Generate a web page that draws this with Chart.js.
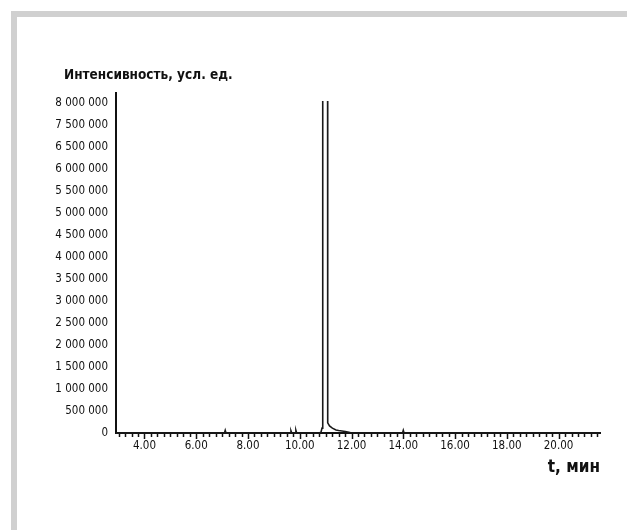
<!DOCTYPE html>
<html>
<head>
<meta charset="utf-8">
<script src="https://cdn.jsdelivr.net/npm/chart.js@4"></script>
<style>
  body { margin: 0; background: #fff; }
  #frame {
    position: absolute; left: 11px; top: 11px; width: 700px; height: 600px;
    border-top: 6px solid #d0d0d0; border-left: 6px solid #d0d0d0;
  }
  #chart { position: absolute; left: 0; top: 0; }
</style>
</head>
<body>
<div id="frame"></div>
<canvas id="chart" width="627" height="530"></canvas>
<script>
// retention time, min
const times = [2.9, 7.09, 7.12, 7.15, 9.63, 9.66, 9.69, 9.82, 9.85, 9.88,
  10.75, 10.82, 10.86, 10.885, 10.89, 11.075, 11.08, 11.15, 11.26, 11.4, 11.5, 11.76, 11.9, 12.0,
  13.97, 14.0, 14.03, 21.6];
// intensity (main peak runs off the top of the plot)
const intensity = [0, 0, 60000, 0, 0, 50000, 0, 0, 60000, 0,
  0, 20000, 110000, 400000, 9000000, 9000000, 230000, 160000, 110000, 70000, 55000, 35000, 15000, 0,
  0, 60000, 0, 0];

const xTicks = [4, 6, 8, 10, 12, 14, 16, 18, 20];
// the source axis is evenly spaced and skips 7 000 000
const yTicks = [0, 500000, 1000000, 1500000, 2000000, 2500000, 3000000, 3500000,
  4000000, 4500000, 5000000, 5500000, 6000000, 6500000, 7000000, 7500000];
const yTickLabels = ['0', '500 000', '1 000 000', '1 500 000', '2 000 000', '2 500 000',
  '3 000 000', '3 500 000', '4 000 000', '4 500 000', '5 000 000', '5 500 000',
  '6 000 000', '6 500 000', '7 500 000', '8 000 000'];

const font = "'DejaVu Sans Condensed', 'Liberation Sans', sans-serif";
const ink = '#111';

// small minor/major tick marks under the time axis
const minorTicks = {
  id: 'minorTicks',
  afterDraw(chart) {
    const x = chart.scales.x;
    const ctx = chart.ctx;
    const y0 = chart.chartArea.bottom + 1;
    ctx.save();
    ctx.strokeStyle = ink;
    ctx.lineWidth = 1.5;
    for (let v = 3; v <= 21.6; v += 0.25) {
      const px = Math.round(x.getPixelForValue(v)) + 0.5;
      const len = (Math.abs(v % 2) < 0.001) ? 5 : 3;
      ctx.beginPath();
      ctx.moveTo(px, y0);
      ctx.lineTo(px, y0 + len);
      ctx.stroke();
    }
    ctx.restore();
  }
};

// axis caption above the intensity axis
const yCaption = {
  id: 'yCaption',
  afterDraw(chart) {
    const ctx = chart.ctx;
    ctx.save();
    ctx.fillStyle = ink;
    ctx.font = 'bold 13.5px ' + font;
    ctx.textBaseline = 'middle';
    ctx.fillText('Интенсивность, усл. ед.', 64, 75);
    ctx.restore();
  }
};

new Chart(document.querySelector('#chart'), {
  type: 'line',
  data: {
    datasets: [{
      data: times.map((t, i) => ({ x: t, y: intensity[i] })),
      borderColor: '#1a1a1a',
      borderWidth: 1.6,
      pointRadius: 0,
      tension: 0,
      clip: { left: 0, top: -8, right: 0, bottom: 2 }
    }]
  },
  options: {
    responsive: false,
    animation: false,
    layout: { padding: { left: 8, top: 93, right: 27, bottom: 52 } },
    plugins: {
      legend: { display: false },
      tooltip: { enabled: false }
    },
    scales: {
      x: {
        type: 'linear',
        min: 2.9,
        max: 21.6,
        afterBuildTicks: s => { s.ticks = xTicks.map(v => ({ value: v })); },
        afterFit: s => { s.height = 45; },
        grid: { display: false, drawTicks: false },
        border: { display: true, color: ink, width: 2 },
        ticks: {
          padding: 6,
          color: ink,
          font: { family: font, size: 11.5 },
          maxRotation: 0,
          callback: v => v.toFixed(2)
        },
        title: {
          display: true,
          text: 't, мин',
          align: 'end',
          color: ink,
          font: { family: font, size: 17, weight: 'bold' },
          padding: { top: 2, bottom: 0 }
        }
      },
      y: {
        min: 0,
        max: 7727000,
        afterBuildTicks: s => { s.ticks = yTicks.map(v => ({ value: v })); },
        afterFit: s => { s.width = 108; },
        grid: { display: false, drawTicks: false },
        border: { display: true, color: ink, width: 2 },
        ticks: {
          padding: 8,
          color: ink,
          font: { family: font, size: 11.5 },
          callback: (v, i) => yTickLabels[i]
        }
      }
    }
  },
  plugins: [minorTicks, yCaption]
});
</script>
</body>
</html>
